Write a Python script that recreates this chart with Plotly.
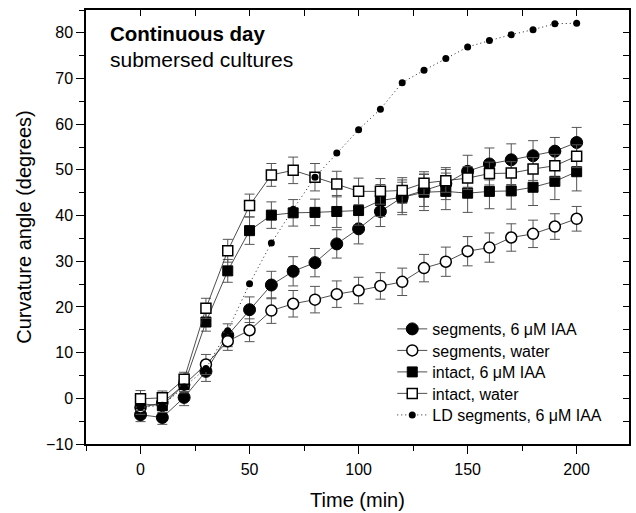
import plotly.graph_objects as go

time_min = [0, 10, 20, 30, 40, 50, 60, 70, 80, 90, 100, 110, 120, 130, 140, 150, 160, 170, 180, 190, 200]

seg_iaa = [-3.6, -4.2, 0.2, 5.9, 13.8, 19.4, 24.8, 27.8, 29.7, 33.8, 37.1, 40.9, 44.0, 45.5, 47.0, 49.7, 51.3, 52.2, 53.1, 54.1, 56.0]
seg_iaa_err = [1.5, 1.5, 1.8, 2.2, 2.5, 2.8, 3.0, 3.2, 3.1, 3.1, 3.3, 3.3, 3.3, 3.5, 3.5, 3.5, 3.5, 3.5, 3.3, 3.0, 3.3]

seg_water = [-2.0, -1.0, 3.0, 7.4, 12.5, 14.9, 19.2, 20.7, 21.6, 22.8, 23.6, 24.6, 25.5, 28.5, 29.9, 32.2, 33.0, 35.2, 36.0, 37.6, 39.3]
seg_water_err = [1.5, 1.5, 1.8, 2.2, 2.0, 2.5, 2.8, 2.9, 2.9, 2.9, 2.9, 2.9, 3.0, 3.0, 3.2, 3.2, 3.2, 3.0, 3.0, 2.8, 2.7]

intact_iaa = [-1.2, -1.6, 3.0, 16.7, 27.9, 36.7, 40.1, 40.6, 40.7, 40.9, 41.1, 43.3, 44.0, 45.1, 45.3, 44.9, 45.3, 45.4, 46.2, 47.5, 49.6]
intact_iaa_err = [1.5, 1.5, 1.5, 2.0, 2.5, 3.0, 2.9, 2.9, 2.9, 3.5, 3.2, 3.5, 3.8, 4.0, 4.0, 4.2, 3.8, 4.0, 4.0, 4.0, 4.2]

intact_water = [-0.1, 0.1, 4.2, 19.7, 32.3, 42.2, 48.9, 49.9, 48.4, 46.9, 45.3, 45.3, 45.5, 47.1, 47.6, 48.2, 49.2, 49.3, 50.2, 50.9, 53.0]
intact_water_err = [1.8, 1.5, 1.5, 2.2, 2.5, 2.5, 2.5, 2.9, 3.0, 2.8, 2.9, 2.8, 2.8, 2.5, 2.5, 2.5, 2.5, 2.5, 2.5, 2.5, 2.5]

ld_seg_iaa = [-2.0, -1.5, 2.5, 6.5, 14.8, 25.1, 34.0, 41.4, 48.4, 53.7, 58.8, 63.3, 69.1, 71.8, 74.4, 76.9, 78.3, 79.6, 80.7, 82.0, 82.1]

names = ["segments, 6 μM IAA", "segments, water", "intact, 6 μM IAA", "intact, water", "LD segments, 6 μM IAA"]

FONT = "Liberation Sans, Arial, sans-serif"
LINE_COL = "#222"
ERR_COL = "#555"

fig = go.Figure()

def err(arr):
    return dict(type="data", array=arr, visible=True, color=ERR_COL, thickness=1, width=5)

fig.add_trace(go.Scatter(x=time_min, y=seg_iaa, name=names[0], mode="lines+markers", legend="legend",
                         line=dict(color=LINE_COL, width=0.8),
                         marker=dict(symbol="circle", size=12, color="black", line=dict(color="black", width=1)),
                         error_y=err(seg_iaa_err)))
fig.add_trace(go.Scatter(x=time_min, y=seg_water, name=names[1], mode="lines+markers", legend="legend2",
                         line=dict(color=LINE_COL, width=0.8),
                         marker=dict(symbol="circle", size=11, color="white", line=dict(color="black", width=1.5)),
                         error_y=err(seg_water_err)))
fig.add_trace(go.Scatter(x=time_min, y=intact_iaa, name=names[2], mode="lines+markers", legend="legend3",
                         line=dict(color=LINE_COL, width=0.8),
                         marker=dict(symbol="square", size=10, color="black", line=dict(color="black", width=1)),
                         error_y=err(intact_iaa_err)))
fig.add_trace(go.Scatter(x=time_min, y=intact_water, name=names[3], mode="lines+markers", legend="legend4",
                         line=dict(color=LINE_COL, width=0.8),
                         marker=dict(symbol="square", size=10, color="white", line=dict(color="black", width=1.5)),
                         error_y=err(intact_water_err)))
fig.add_trace(go.Scatter(x=time_min, y=ld_seg_iaa, name=names[4], mode="lines+markers", legend="legend5",
                         line=dict(color=LINE_COL, width=1, dash="1px,3px"),
                         marker=dict(symbol="circle", size=7, color="black")))

# empty trace to host the mirrored (inward-tick) top/right axes
fig.add_trace(go.Scatter(x=[], y=[], xaxis="x2", yaxis="y2", showlegend=False, hoverinfo="skip"))

XR = [-25, 224]
YR = [-10, 85]

LEG_X = 0.564
legend_rows_y = [0.2650, 0.2154, 0.1659, 0.1164, 0.0668]

def leg(y):
    return dict(x=LEG_X, y=y, xanchor="left", yanchor="middle",
                bgcolor="rgba(0,0,0,0)", borderwidth=0,
                font=dict(family=FONT, size=16, color="black"),
                itemwidth=30)

fig.update_layout(
    width=636, height=513,
    margin=dict(l=86, r=5, t=10, b=69),
    paper_bgcolor="white", plot_bgcolor="white",
    font=dict(family=FONT, size=16, color="black"),
    showlegend=True,
    legend=leg(legend_rows_y[0]),
    legend2=leg(legend_rows_y[1]),
    legend3=leg(legend_rows_y[2]),
    legend4=leg(legend_rows_y[3]),
    legend5=leg(legend_rows_y[4]),
    xaxis=dict(range=XR, showgrid=False, zeroline=False,
               showline=True, linecolor="black", linewidth=1.5, mirror=True,
               ticks="outside", ticklen=8, tickwidth=1, tickcolor="black",
               tickmode="linear", tick0=0, dtick=50, ticklabelstandoff=2,
               minor=dict(ticks="outside", ticklen=5, dtick=25, tick0=0, tickcolor="black", showgrid=False),
               tickfont=dict(family=FONT, size=16),
               title=dict(text="Time (min)", font=dict(family=FONT, size=20), standoff=16)),
    yaxis=dict(range=YR, showgrid=False, zeroline=False,
               showline=True, linecolor="black", linewidth=1.5, mirror=True,
               ticks="outside", ticklen=8, tickwidth=1, tickcolor="black",
               tickmode="linear", tick0=0, dtick=10,
               minor=dict(ticks="outside", ticklen=5, dtick=5, tick0=0, tickcolor="black", showgrid=False),
               tickfont=dict(family=FONT, size=16),
               title=dict(text="Curvature angle (degrees)", font=dict(family=FONT, size=20), standoff=9)),
    xaxis2=dict(range=XR, overlaying="x", side="top", showgrid=False, zeroline=False,
                showline=False, ticks="inside", ticklen=6, tickwidth=1, tickcolor="black",
                tickmode="linear", tick0=0, dtick=25, showticklabels=False, anchor="y"),
    yaxis2=dict(range=YR, overlaying="y", side="right", showgrid=False, zeroline=False,
                showline=False, ticks="inside", ticklen=6, tickwidth=1, tickcolor="black",
                tickmode="linear", tick0=0, dtick=5, showticklabels=False, anchor="x"),
    annotations=[
        dict(text="<b>Continuous day</b>", xref="paper", yref="paper", x=0.04, y=0.977,
             xanchor="left", yanchor="top", showarrow=False, font=dict(family=FONT, size=20.5)),
        dict(text="submersed cultures", xref="paper", yref="paper", x=0.04, y=0.917,
             xanchor="left", yanchor="top", showarrow=False, font=dict(family=FONT, size=21)),
    ],
)

fig.write_html("out.html")
